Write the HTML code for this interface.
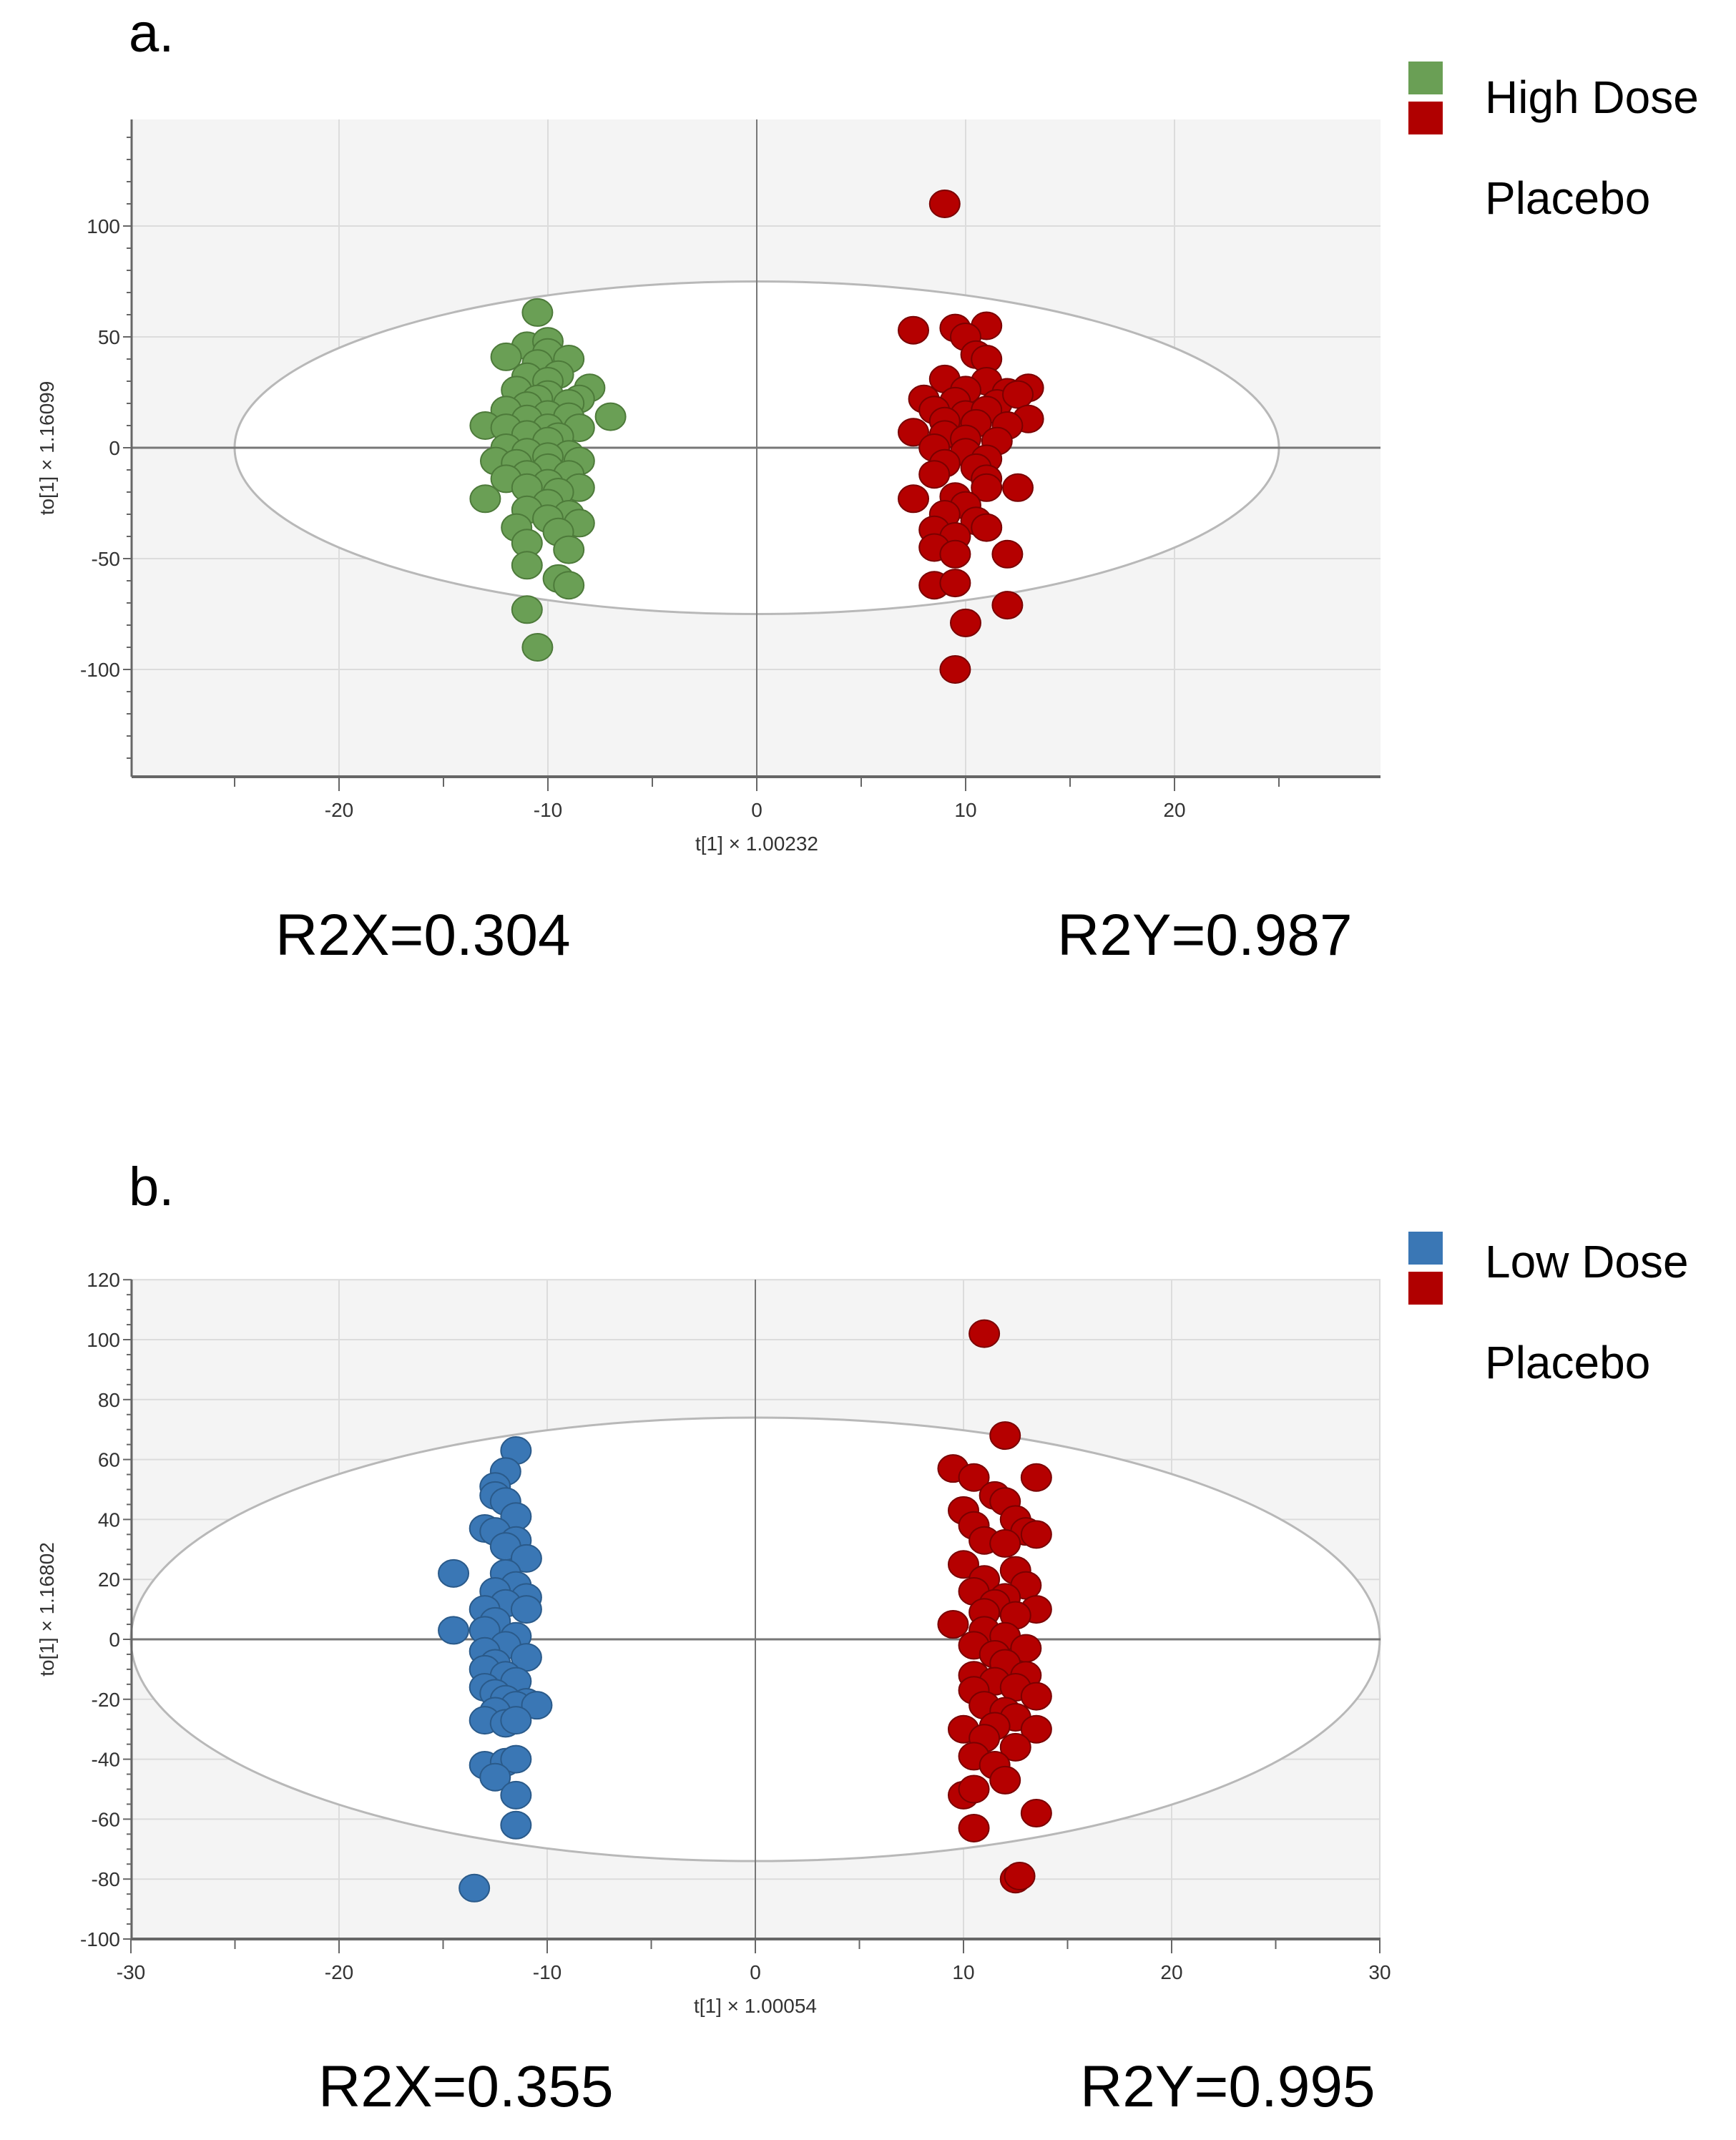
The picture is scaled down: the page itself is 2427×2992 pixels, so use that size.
<!DOCTYPE html>
<html><head><meta charset="utf-8"><style>
html,body{margin:0;padding:0;background:#fff;}
svg{display:block;font-family:"Liberation Sans",sans-serif;}
</style></head><body>
<svg id="fig" width="2427" height="2992" viewBox="0 0 2427 2992" xmlns="http://www.w3.org/2000/svg">
<text x="180" y="72" font-size="76" fill="#000">a.</text>
<text x="180" y="1685" font-size="76" fill="#000">b.</text>
<rect x="1969" y="86" width="48" height="46" fill="#6a9f55"/>
<rect x="1969" y="142" width="48" height="46" fill="#b00000"/>
<text x="2076" y="158" font-size="64" fill="#000">High Dose</text>
<text x="2076" y="299" font-size="64" fill="#000">Placebo</text>
<rect x="1969" y="1722" width="48" height="46" fill="#3a77b5"/>
<rect x="1969" y="1778" width="48" height="46" fill="#b00000"/>
<text x="2076" y="1786" font-size="64" fill="#000">Low Dose</text>
<text x="2076" y="1927" font-size="64" fill="#000">Placebo</text>
<text x="385" y="1335" font-size="82" fill="#000">R2X=0.304</text>
<text x="1478" y="1335" font-size="82" fill="#000">R2Y=0.987</text>
<text x="445" y="2945" font-size="82" fill="#000">R2X=0.355</text>
<text x="1510" y="2945" font-size="82" fill="#000">R2Y=0.995</text>
<g id="pa"></g>
<g id="pb"></g>
</svg>
<script>
// Panel a data
const aGreenX=[-10.5,-11,-10,-12,-10,-9,-10.5,-9.5,-11,-10,-8,-11.5,-10,-8.5,-10.5,-9,-11,-12,-10,-7,-9,-11,-13,-12,-10,-8.5,-11,-9.5,-10,-12,-11,-9,-10,-12.5,-11.5,-8.5,-10,-11,-9,-12,-10,-8.5,-11,-9.5,-13,-10,-11,-9,-10,-8.5,-11.5,-9.5,-11,-9,-11,-9.5,-9,-11,-10.5];
const aGreenY=[61,46,48,41,43,40,38,33,32,30,27,26,24,22,22,20,19,17,15,14,14,13,10,9,9,9,6,5,3,0,-2,-3,-4,-6,-7,-6,-9,-12,-12,-14,-16,-18,-18,-20,-23,-25,-28,-30,-32,-34,-36,-38,-43,-46,-53,-59,-62,-73,-90];
const aRedX=[9,7.5,9.5,11,10,10.5,11,9,11,8,10,12,13,9.5,11.5,12.5,8.5,10,11,13,9,10.5,12,7.5,9,10,11.5,8.5,10,11,9,10.5,8.5,11,12.5,7.5,9.5,11,10,9,10.5,8.5,11,9.5,8.5,12,9.5,8.5,9.5,12,10,9.5];
const aRedY=[110,53,54,55,50,42,40,31,30,22,26,25,27,21,20,24,17,15,17,13,12,11,10,7,6,4,3,0,-2,-5,-7,-9,-12,-14,-18,-23,-22,-18,-26,-30,-33,-37,-36,-40,-45,-48,-48,-62,-61,-71,-79,-100];
const aXTicks=[-20,-10,0,10,20];
const aYTicks=[-100,-50,0,50,100];
// Panel b data
const bBlueX=[-11.5,-12,-12.5,-12.5,-12,-11.5,-13,-12.5,-11.5,-12,-11,-14.5,-12,-11.5,-12.5,-11,-12,-13,-11,-12.5,-14.5,-13,-11.5,-12,-13,-11,-12.5,-13,-12,-11.5,-13,-12.5,-12,-11,-11.5,-10.5,-12.5,-13,-12,-11.5,-13,-12,-11.5,-12.5,-11.5,-11.5,-13.5];
const bBlueY=[63,56,51,48,46,41,37,36,33,31,27,22,22,18,16,14,12,10,10,6,3,3,1,-2,-4,-6,-8,-10,-12,-14,-16,-18,-20,-21,-22,-22,-24,-27,-28,-27,-42,-41,-40,-46,-52,-62,-83];
const bRedX=[11,12,9.5,10.5,13.5,11.5,12,10,12.5,10.5,13,11,12,13.5,10,12.5,11,13,10.5,12,11.5,13.5,11,12.5,9.5,11,12,10.5,13,11.5,12,10.5,13,11.5,12.5,10.5,13.5,11,12,12.5,10,13.5,11.5,11,12.5,10.5,11.5,12,10,10.5,13.5,10.5,12.5,12.7];
const bRedY=[102,68,57,54,54,48,46,43,40,38,36,33,32,35,25,23,20,18,16,14,12,10,9,8,5,3,1,-2,-3,-5,-8,-12,-12,-14,-16,-17,-19,-22,-24,-26,-30,-30,-29,-33,-36,-39,-42,-47,-52,-50,-58,-63,-80,-79];
const bXTicks=[-30,-20,-10,0,10,20,30];
const bYTicks=[-100,-80,-60,-40,-20,0,20,40,60,80,100,120];

const NS="http://www.w3.org/2000/svg";
function mk(parent,tag,attrs,text){const e=document.createElementNS(NS,tag);for(const k in attrs)e.setAttribute(k,attrs[k]);if(text!==undefined)e.textContent=text;parent.appendChild(e);return e;}

function panel(g,cfg){
  const sx=v=>cfg.x0+v*cfg.kx, sy=v=>cfg.y0-v*cfg.ky;
  const bg=mk(g,'rect',{x:cfg.L,y:cfg.T,width:cfg.R-cfg.L,height:cfg.B-cfg.T,fill:'#f4f4f4'});
  
  
  cfg.xt.forEach(v=>{const l=mk(g,'line',{x1:sx(v),x2:sx(v),y1:cfg.T,y2:cfg.B,stroke:'#dcdcdc','stroke-width':2});
    
    });
  cfg.yt.forEach(v=>{const l=mk(g,'line',{x1:cfg.L,x2:cfg.R,y1:sy(v),y2:sy(v),stroke:'#dcdcdc','stroke-width':2});
    
    });
  const el=mk(g,'ellipse',{cx:sx(0),cy:sy(0),rx:cfg.ex*cfg.kx,ry:cfg.ey*cfg.ky,fill:'#fff',stroke:'#b8b8b8','stroke-width':3});
  
  
  const h=mk(g,'line',{x1:cfg.L,x2:cfg.R,y1:sy(0),y2:sy(0),stroke:'#777','stroke-width':3});
  
  
  const v0=mk(g,'line',{x1:sx(0),x2:sx(0),y1:cfg.T,y2:cfg.B,stroke:'#777','stroke-width':2});
  
  
  const ax=mk(g,'line',{x1:cfg.L,x2:cfg.R,y1:cfg.B,y2:cfg.B,stroke:'#666','stroke-width':4});
  
  
  const ay=mk(g,'line',{x1:cfg.L,x2:cfg.L,y1:cfg.T,y2:cfg.B,stroke:'#666','stroke-width':3});
  
  
  for(let v=cfg.xmin;v<=cfg.xmax;v+=5){mk(g,'line',{x1:sx(v),x2:sx(v),y1:cfg.B,y2:cfg.B+(v%10===0?20:14),stroke:'#666','stroke-width':2});}
  for(let v=cfg.ymin;v<=cfg.ymax;v+=cfg.minor){mk(g,'line',{x1:cfg.L-(v%cfg.ystep===0?12:7),x2:cfg.L,y1:sy(v),y2:sy(v),stroke:'#666','stroke-width':2});}
  cfg.xt.forEach(v=>{const t=mk(g,'text',{x:sx(v),y:cfg.B+56,'font-size':28,'text-anchor':'middle',fill:'#333'},String(v));
    
    });
  cfg.yt.forEach(v=>{const t=mk(g,'text',{x:cfg.L-16,y:sy(v)+10,'font-size':28,'text-anchor':'end',fill:'#333'},String(v));
    
    });
  const xt=mk(g,'text',{x:sx(0),y:cfg.B+103,'font-size':28,'text-anchor':'middle',fill:'#333'},cfg.xtitle);
  
  
  const yc=(cfg.T+cfg.B)/2;
  const yt=mk(g,'text',{x:75,y:yc,'font-size':28,'text-anchor':'middle',fill:'#333',transform:`rotate(-90 75 ${yc})`},cfg.ytitle);
  
  
  cfg.series.forEach(s=>{
    s.x.forEach((xv,i)=>{
      const c=mk(g,'ellipse',{cx:sx(xv),cy:sy(s.y[i]),rx:21,ry:19,fill:s.fill,stroke:s.stroke,'stroke-width':2});
      
      
    });
  });
}
panel(document.getElementById('pa'),{L:184,R:1930,T:167,B:1086,x0:1058,kx:29.2,y0:626,ky:3.1,
  xmin:-25,xmax:25,ymin:-140,ymax:140,minor:10,ystep:50,ex:25,ey:75,xt:aXTicks,yt:aYTicks,
  xtitle:'t[1] × 1.00232',ytitle:'to[1] × 1.16099',
  series:[{x:aGreenX,y:aGreenY,fill:'#6a9f55',stroke:'#4d7a3a',name:'high-dose-point'},
          {x:aRedX,y:aRedY,fill:'#b50000',stroke:'#7a0000',name:'placebo-point'}]});
panel(document.getElementById('pb'),{L:184,R:1930,T:1789,B:2711,x0:1056,kx:29.1,y0:2292,ky:4.19,
  xmin:-30,xmax:30,ymin:-100,ymax:120,minor:5,ystep:20,ex:30,ey:74,xt:bXTicks,yt:bYTicks,
  xtitle:'t[1] × 1.00054',ytitle:'to[1] × 1.16802',
  series:[{x:bBlueX,y:bBlueY,fill:'#3a77b5',stroke:'#2a5a8a',name:'low-dose-point'},
          {x:bRedX,y:bRedY,fill:'#b50000',stroke:'#7a0000',name:'placebo-point'}]});
</script>
</body></html>
